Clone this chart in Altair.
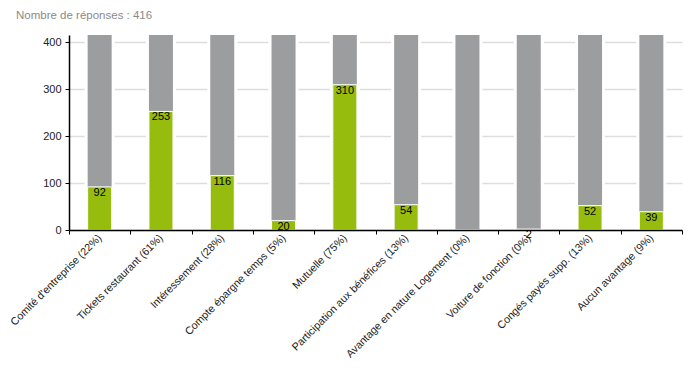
import altair as alt
import pandas as pd

categories = [
    "Comité d'entreprise (22%)",
    "Tickets restaurant (61%)",
    "Intéressement (28%)",
    "Compte épargne temps (5%)",
    "Mutuelle (75%)",
    "Participation aux bénéfices (13%)",
    "Avantage en nature Logement (0%)",
    "Voiture de fonction (0%)",
    "Congés payés supp. (13%)",
    "Aucun avantage (9%)",
]
values = [92, 253, 116, 20, 310, 54, 0, 2, 52, 39]
total = 416
y_ticks = [0, 50, 100, 150, 200, 250, 300, 350, 400]

df = pd.DataFrame({"cat": categories, "value": values, "total": [total] * len(categories)})

FONT = "Liberation Sans"

x = alt.X(
    "cat:N",
    sort=categories,
    title=None,
    scale=alt.Scale(paddingInner=0.0, paddingOuter=0.0),
    axis=alt.Axis(
        labelAngle=-45,
        labelAlign="right",
        labelBaseline="middle",
        labelFont=FONT,
        labelFontSize=10.7,
        labelColor="#222",
        labelPadding=2,
        labelLimit=300,
        tickBand="extent",
        tickColor="#000",
        tickSize=4,
        domainColor="#000",
        domainWidth=1.5,
        grid=False,
        zindex=1,
    ),
)

yscale = alt.Scale(domain=[0, total], nice=False)
yaxis = alt.Axis(
    values=y_ticks,
    labelExpr="datum.value % 100 == 0 ? datum.label : ''",
    labelFont=FONT,
    labelFontSize=11,
    labelColor="#222",
    labelPadding=4,
    tickColor="#000",
    tickSize=4,
    domainColor="#000",
    domainWidth=1.5,
    gridColor="#dddddd",
    gridWidth=1.5,
    gridOpacity={"condition": {"test": "datum.value % 100 == 0", "value": 1}, "value": 0},
    title=None,
)

base = alt.Chart(df)

halo = base.mark_bar(size=30, color="white").encode(
    x=x, y=alt.Y("total:Q", scale=yscale, axis=yaxis)
)
gray = base.mark_bar(size=24, color="#9c9d9f").encode(
    x=x, y=alt.Y("total:Q", scale=yscale)
)
green = base.mark_bar(size=24, color="#96bc0e", stroke="white", strokeWidth=1).encode(
    x=x, y=alt.Y("value:Q", scale=yscale)
)
labels = base.transform_filter("datum.value > 0").mark_text(
    baseline="top", align="center", font=FONT, fontSize=11, color="#000", dy=0
).encode(
    x=x, y=alt.Y("value:Q", scale=yscale), text="value:Q"
)

chart = alt.layer(halo, gray, green, labels).properties(
    width=613,
    height=195,
    autosize=alt.AutoSizeParams(type="none"),
    padding={"left": 61, "top": 27, "right": 10, "bottom": 140},
    title=alt.TitleParams(
        "Nombre de réponses : 416",
        anchor="start",
        frame="group",
        dx=-53,
        font=FONT,
        fontSize=11.5,
        fontWeight="normal",
        color="#8a8a8a",
        offset=14,
    ),
).configure_view(stroke=None)

chart.save("out.html", embed_options={"renderer": "svg", "actions": False})
